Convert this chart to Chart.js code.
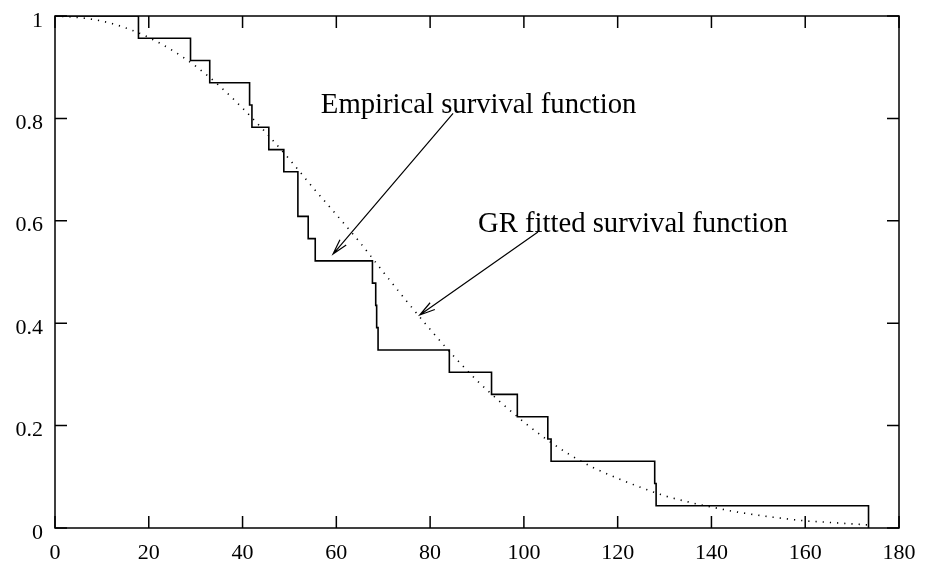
<!DOCTYPE html>
<html>
<head>
<meta charset="utf-8">
<script src="https://cdn.jsdelivr.net/npm/chart.js"></script>
<style>
  body { margin: 0; background: #fff; }
</style>
</head>
<body>
<canvas id="survivalChart" width="925" height="567"></canvas>
<script>
// ==================== Data ====================
// empirical survival: event times and survival after each
const stepTimes = [0, 17.8, 28.9, 33.0, 41.5, 42.0, 45.6, 48.8, 51.8, 54.0, 55.5,
    67.7, 68.4, 68.6, 68.9, 84.1, 93.1, 98.6, 105.1, 105.8, 127.9, 128.2, 173.5];
const stepSurvival = [1, 0.9565, 0.9130, 0.8696, 0.8261, 0.7826, 0.7391, 0.6957, 0.6087,
    0.5652, 0.5217, 0.4783, 0.4348, 0.3913, 0.3478, 0.3043, 0.2609, 0.2174, 0.1739,
    0.1304, 0.0870, 0.0435, 0];

// GR fitted survival curve
const fitTimes = [0, 5, 10, 15, 20, 25, 30, 35, 40, 45, 50, 55, 60, 65, 70, 75, 80, 85,
    90, 95, 100, 105, 110, 115, 120, 125, 130, 135, 140, 145, 150, 155, 160, 165, 170, 173.5];
const fitSurvival = [1, 0.997, 0.99, 0.977, 0.958, 0.933, 0.902, 0.864, 0.82, 0.772,
    0.72, 0.665, 0.612, 0.558, 0.5, 0.443, 0.388, 0.336, 0.288, 0.246, 0.207, 0.172,
    0.142, 0.117, 0.097, 0.079, 0.063, 0.051, 0.041, 0.032, 0.025, 0.019, 0.014, 0.011,
    0.008, 0.006];

const xTicks = [0, 20, 40, 60, 80, 100, 120, 140, 160, 180];
const yTicks = [0, 0.2, 0.4, 0.6, 0.8, 1];
const xTickLabels = ["0", "20", "40", "60", "80", "100", "120", "140", "160", "180"];
const yTickLabels = ["0", "0.2", "0.4", "0.6", "0.8", "1"];

const labelEmpirical = "Empirical survival function";
const labelFitted = "GR fitted survival function";

// ==================== Helpers ====================
const serif = "'Liberation Serif', 'Times New Roman', serif";

function toPoints(xs, ys) {
    return xs.map((x, i) => ({ x: x, y: ys[i] }));
}

function drawArrow(ctx, x1, y1, x2, y2) {
    const ang = Math.atan2(y2 - y1, x2 - x1);
    const len = 16;
    const spread = 0.26;
    ctx.beginPath();
    ctx.moveTo(x1, y1);
    ctx.lineTo(x2, y2);
    ctx.moveTo(x2 - len * Math.cos(ang - spread), y2 - len * Math.sin(ang - spread));
    ctx.lineTo(x2, y2);
    ctx.lineTo(x2 - len * Math.cos(ang + spread), y2 - len * Math.sin(ang + spread));
    ctx.stroke();
}

// frame, inward ticks, tick labels and the two labelled arrows
const framePlugin = {
    id: "frame",
    afterDraw(chart) {
        const ctx = chart.ctx;
        const a = chart.chartArea;
        const xs = chart.scales.x;
        const ys = chart.scales.y;
        ctx.save();
        ctx.strokeStyle = "#000";
        ctx.lineWidth = 1.5;
        ctx.strokeRect(a.left, a.top, a.right - a.left, a.bottom - a.top);

        const tl = 12;
        ctx.beginPath();
        xTicks.forEach(v => {
            const px = xs.getPixelForValue(v);
            ctx.moveTo(px, a.bottom);
            ctx.lineTo(px, a.bottom - tl);
            ctx.moveTo(px, a.top);
            ctx.lineTo(px, a.top + tl);
        });
        yTicks.forEach(v => {
            const py = ys.getPixelForValue(v);
            ctx.moveTo(a.left, py);
            ctx.lineTo(a.left + tl, py);
            ctx.moveTo(a.right, py);
            ctx.lineTo(a.right - tl, py);
        });
        ctx.stroke();

        // tick labels
        ctx.fillStyle = "#000";
        ctx.font = "22px " + serif;
        ctx.textBaseline = "alphabetic";
        ctx.textAlign = "center";
        xTicks.forEach((v, i) => {
            ctx.fillText(xTickLabels[i], xs.getPixelForValue(v), a.bottom + 31);
        });
        ctx.textAlign = "right";
        yTicks.forEach((v, i) => {
            ctx.fillText(yTickLabels[i], a.left - 12, ys.getPixelForValue(v) + 10.5);
        });

        // annotations
        ctx.font = "28.7px " + serif;
        ctx.textAlign = "left";
        ctx.fillText(labelEmpirical, xs.getPixelForValue(56.7), ys.getPixelForValue(0.81));
        ctx.fillText(labelFitted, xs.getPixelForValue(90.2), ys.getPixelForValue(0.578));

        ctx.lineWidth = 1.2;
        drawArrow(ctx, xs.getPixelForValue(84.9), ys.getPixelForValue(0.81),
            xs.getPixelForValue(59.3), ys.getPixelForValue(0.535));
        drawArrow(ctx, xs.getPixelForValue(103.0), ys.getPixelForValue(0.578),
            xs.getPixelForValue(77.8), ys.getPixelForValue(0.416));
        ctx.restore();
    }
};

// ==================== Chart ====================
const chartEl = document.getElementById("survivalChart");

new Chart(chartEl, {
    type: "line",
    data: {
        datasets: [{
            label: "Empirical",
            data: toPoints(stepTimes, stepSurvival),
            borderColor: "#000",
            borderWidth: 1.6,
            stepped: "before",
            pointRadius: 0,
            fill: false
        }, {
            label: "GR fitted",
            data: toPoints(fitTimes, fitSurvival),
            borderColor: "#000",
            borderWidth: 1.6,
            borderDash: [1.2, 6],
            cubicInterpolationMode: "monotone",
            pointRadius: 0,
            fill: false
        }]
    },
    options: {
        responsive: false,
        animation: false,
        devicePixelRatio: 1,
        layout: { padding: { top: 16, right: 26, left: 0, bottom: 0 } },
        plugins: {
            legend: { display: false },
            tooltip: { enabled: false }
        },
        scales: {
            x: {
                type: "linear",
                min: 0,
                max: 180,
                afterFit: (scale) => { scale.height = 39; },
                grid: { display: false },
                border: { display: false },
                ticks: { display: false }
            },
            y: {
                min: 0,
                max: 1,
                afterFit: (scale) => { scale.width = 55; },
                grid: { display: false },
                border: { display: false },
                ticks: { display: false }
            }
        }
    },
    plugins: [framePlugin]
});
</script>
</body>
</html>
